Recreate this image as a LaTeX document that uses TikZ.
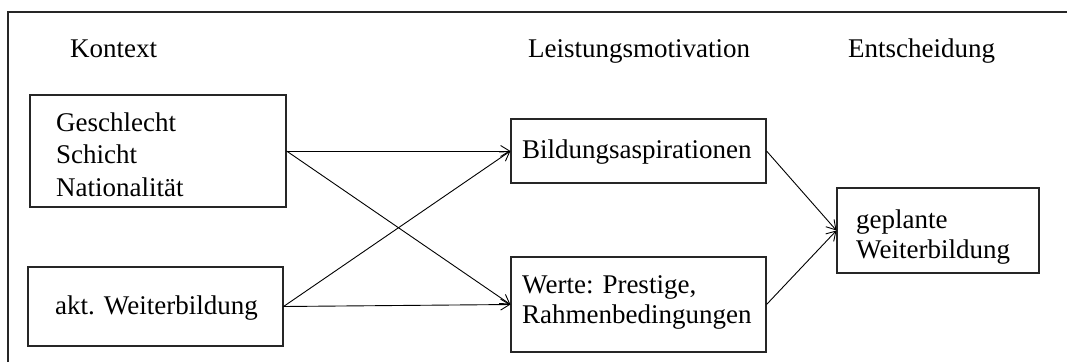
\documentclass[tikz,border=0pt]{standalone}
\usepackage{fontspec}
\setmainfont{Liberation Serif}
\usetikzlibrary{arrows.meta}
\begin{document}
\begin{tikzpicture}[x=1pt,y=-1pt,
  box/.style={draw=black!85,line width=1.1pt,inner sep=0pt,rectangle},
  lbl/.style={anchor=base west,inner sep=0pt,align=left,font=\fontsize{27}{31.5}\selectfont},
  conn/.style={draw=black,line width=0.9pt,-{Straight Barb[length=9pt,width=11pt]}}]
\useasboundingbox (0,0) rectangle (1067,362);
% outer frame (top and left only)
\coordinate (ftl) at (8,12);
\coordinate (ftr) at (1067,12);
\coordinate (fbl) at (8,362);
\draw[line width=1.6pt,black!85] (fbl) -- (ftl) -- (ftr);
% headers
\node[lbl] (h1) at (70,57) {Kontext};
\node[lbl] (h2) at (528,57) {Leistungsmotivation};
\node[lbl] (h3) at (848,57) {Entscheidung};
% boxes
\node[box,minimum width=256pt,minimum height=112pt] (b1) at (158,151) {};
\node[box,minimum width=255pt,minimum height=79pt] (b2) at (155.5,306.5) {};
\node[box,minimum width=255pt,minimum height=64pt] (b3) at (638.5,151) {};
\node[box,minimum width=255pt,minimum height=95pt] (b4) at (638.5,304.5) {};
\node[box,minimum width=202pt,minimum height=85pt] (b5) at (938,230.5) {};
% texts (anchor at baseline of last line)
\node[lbl,font=\fontsize{27}{32.5}\selectfont] (t1) at (56,196) {Geschlecht\\Schicht\\Nationalität};
\node[lbl] (t2) at (55,314) {akt. Weiterbildung};
\node[lbl] (t3) at (522,158) {Bildungsaspirationen};
\node[lbl,font=\fontsize{27}{30}\selectfont] (t4) at (522,323) {Werte: Prestige,\\Rahmenbedingungen};
\node[lbl,font=\fontsize{27}{30}\selectfont] (t5) at (856,258) {geplante\\Weiterbildung};
% connectors
\draw[conn] (b1.east) -- (b3.west);
\draw[conn] (b1.east) -- (b4.west);
\draw[conn] (b2.east) -- (b3.west);
\draw[conn] (b2.east) -- (b4.west);
\draw[conn] (b3.east) -- (b5.west);
\draw[conn] (b4.east) -- (b5.west);
\end{tikzpicture}
\end{document}
